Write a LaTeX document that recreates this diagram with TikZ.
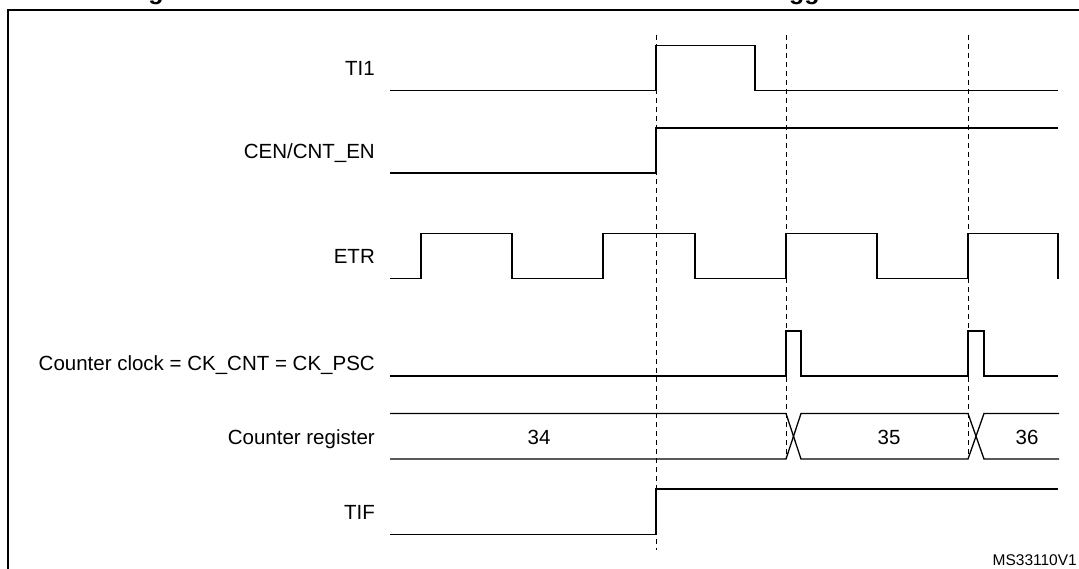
\documentclass[tikz,border=0pt]{standalone}
\usepackage{fontspec}
\setmainfont{Liberation Sans}
\begin{document}
\begin{tikzpicture}[x=1bp,y=-1bp,
  sig/.style={line width=1.3bp, line join=miter},
  guide/.style={line width=1bp, dash pattern=on 5bp off 4bp},
  frameline/.style={line width=2bp},
  lbl/.style={anchor=base east, inner sep=0pt, font=\fontsize{20.5bp}{24bp}\selectfont},
  val/.style={anchor=base, inner sep=0pt, font=\fontsize{20.5bp}{24bp}\selectfont},
  ttl/.style={anchor=base west, inner sep=0pt, font=\bfseries\fontsize{25bp}{30bp}\selectfont},
  ref/.style={anchor=base east, inner sep=0pt, font=\fontsize{15.5bp}{18bp}\selectfont}]
\useasboundingbox (0,0) rectangle (1079,569);
\clip (0,0) rectangle (1079,569);

% clipped title (only descenders visible)
\node[ttl] (title) at (126,0) {Figure 105. Control circuit in external clock mode 2 + trigger mode};

% frame
\draw[frameline] (7.5,600) -- (7.5,10) -- (1100,10);

% dashed guides
\coordinate (g1t) at (656,35);  \coordinate (g1b) at (656,550);
\coordinate (g2t) at (786,35);  \coordinate (g2b) at (786,459);
\coordinate (g3t) at (968,35);  \coordinate (g3b) at (968,459);
\draw[guide] (g1t) -- (g1b);
\draw[guide] (g2t) -- (g2b);
\draw[guide] (g3t) -- (g3b);

% labels
\node[lbl] (lti1) at (375,76) {TI1};
\node[lbl] (lcen) at (375,159) {CEN/CNT\_EN};
\node[lbl] (letr) at (375,263.3) {ETR};
\node[lbl] (lclk) at (375,370) {Counter clock = CK\_CNT = CK\_PSC};
\node[lbl] (lreg) at (375,444.3) {Counter register};
\node[lbl] (ltif) at (375,519) {TIF};

% TI1
\draw[sig] (390,90.5) -- (656,90.5) -- (656,45.5) -- (755,45.5) -- (755,90.5) -- (1058,90.5);
% CEN/CNT_EN
\draw[sig] (390,173) -- (656,173) -- (656,128) -- (1058,128);
% ETR
\draw[sig] (390,278.7) -- (421,278.7) -- (421,233.3) -- (512,233.3) -- (512,278.7)
  -- (603,278.7) -- (603,233.3) -- (695,233.3) -- (695,278.7)
  -- (786,278.7) -- (786,233.3) -- (877,233.3) -- (877,278.7)
  -- (968,278.7) -- (968,233.3) -- (1058,233.3) -- (1058,278.7);
% Counter clock
\draw[sig] (390,376) -- (786,376) -- (786,331) -- (801,331) -- (801,376)
  -- (968,376) -- (968,331) -- (984,331) -- (984,376) -- (1058,376);
% Counter register bus
\draw[sig] (390,413.5) -- (786,413.5) -- (801,459) -- (968,459) -- (984,413.5) -- (1059,413.5);
\draw[sig] (390,459) -- (786,459) -- (801,413.5) -- (968,413.5) -- (984,459) -- (1059,459);
\node[val] (v34) at (539,444.3) {34};
\node[val] (v35) at (889,444.3) {35};
\node[val] (v36) at (1027,444.3) {36};
% TIF
\draw[sig] (390,534.5) -- (656,534.5) -- (656,489) -- (1058,489);

\node[ref] (msref) at (1077,565) {MS33110V1};
\end{tikzpicture}
\end{document}
